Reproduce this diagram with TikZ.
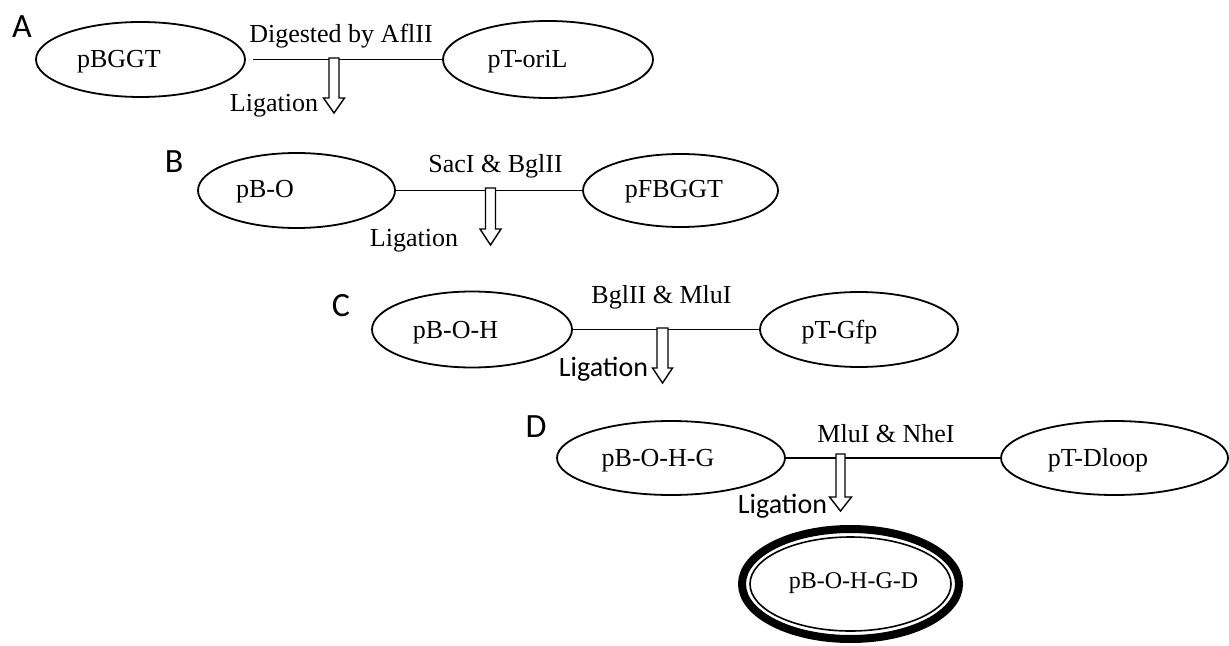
\documentclass[tikz,border=0pt]{standalone}
\usepackage{fontspec}
\setmainfont{Liberation Serif}
\newfontfamily\califont{Carlito}
\usetikzlibrary{shapes.geometric}
\tikzset{
  plasmid/.style={ellipse, draw, line width=0.9pt, inner sep=0pt},
  ptext/.style={anchor=base, inner sep=0pt, font=\fontsize{13}{15}\selectfont},
  ftext/.style={anchor=base, inner sep=0pt, font=\fontsize{12}{14}\selectfont},
  enz/.style={anchor=base, inner sep=0pt, font=\fontsize{13}{15}\selectfont},
  ligT/.style={anchor=base, inner sep=0pt, font=\fontsize{13}{15}\selectfont},
  ligC/.style={anchor=base, inner sep=0pt, font=\califont\fontsize{14}{16}\selectfont},
  steplabel/.style={anchor=base, inner sep=0pt, font=\califont\fontsize{17}{19}\selectfont},
  conn/.style={line width=0.9pt},
  arrowbody/.style={draw, fill=white, line width=0.7pt, line join=miter}
}
% #1 cx, #2 top, #3 neck, #4 tip, #5 shaft half width, #6 head half width
\newcommand\ligarrow[6]{%
  \draw[arrowbody] ({#1-#5},#2) -- ({#1+#5},#2) -- ({#1+#5},#3) -- ({#1+#6},#3)
    -- (#1,#4) -- ({#1-#6},#3) -- ({#1-#5},#3) -- cycle;}
\begin{document}
\begin{tikzpicture}[x=0.5pt,y=-0.5pt]
\useasboundingbox (0,0) rectangle (1229,646);

% Step labels
\node[steplabel] (lA) at (22,38) {A};
\node[steplabel] (lB) at (174,173) {B};
\node[steplabel] (lC) at (341,316) {C};
\node[steplabel] (lD) at (536,437) {D};

% Row A
\node[plasmid, minimum width=104.5pt, minimum height=37.5pt] (a1) at (140.5,59.5) {};
\node[plasmid, minimum width=105pt, minimum height=38.5pt] (a2) at (548,59.5) {};
\node[ptext] (ta1) at (119,68) {pBGGT};
\node[ptext] (ta2) at (527.5,68) {pT-oriL};
\draw[conn] ([xshift=3.5pt]a1.east) -- (a2.west);
\node[enz] (ea) at (341,43) {Digested by AflII};
\ligarrow{334}{58}{98}{113}{5}{10.5}
\node[ligT] (ga) at (274,112) {Ligation};

% Row B
\node[plasmid, minimum width=98.5pt, minimum height=37.5pt] (b1) at (296.5,190.5) {};
\node[plasmid, minimum width=97.5pt, minimum height=36.5pt] (b2) at (680.5,190.5) {};
\node[ptext] (tb1) at (265,198) {pB-O};
\node[ptext] (tb2) at (674,198) {pFBGGT};
\draw[conn] (b1.east) -- (b2.west);
\node[enz] (eb) at (495.5,173) {SacI \& BglII};
\ligarrow{490.5}{188}{229}{245}{5}{10.5}
\node[ligT] (gb) at (414,247) {Ligation};

% Row C
\node[plasmid, minimum width=100pt, minimum height=38pt] (c1) at (472,329.5) {};
\node[plasmid, minimum width=99pt, minimum height=37.5pt] (c2) at (859,329.5) {};
\node[ptext] (tc1) at (455.5,338) {pB-O-H};
\node[ptext] (tc2) at (839.5,338) {pT-Gfp};
\draw[conn] (c1.east) -- (c2.west);
\node[enz] (ec) at (661.5,303) {BglII \& MluI};
\ligarrow{662.5}{328}{368}{383}{5.5}{10}
\node[ligC] (gc) at (603.5,376) {Ligation};

% Row D
\node[plasmid, minimum width=114pt, minimum height=37pt] (d1) at (671,458) {};
\node[plasmid, minimum width=113.5pt, minimum height=37pt] (d2) at (1114.5,458) {};
\node[ptext] (td1) at (658,466) {pB-O-H-G};
\node[ptext] (td2) at (1098,466) {pT-Dloop};
\draw[conn] (d1.east) -- (d2.west);
\node[enz] (ed) at (886,442) {MluI \& NheI};
\ligarrow{840.5}{454}{497}{511}{4.5}{11}
\node[ligC] (gd) at (782.5,513) {Ligation};

% Final product
\node[ellipse, draw, line width=4pt, inner sep=0pt, minimum width=108.5pt, minimum height=55pt] (fin) at (850.5,584) {};
\draw[line width=0.8pt] (fin.center) ellipse [x radius=100.5, y radius=47];
\node[ftext] (tfin) at (853.5,588) {pB-O-H-G-D};
\end{tikzpicture}
\end{document}
